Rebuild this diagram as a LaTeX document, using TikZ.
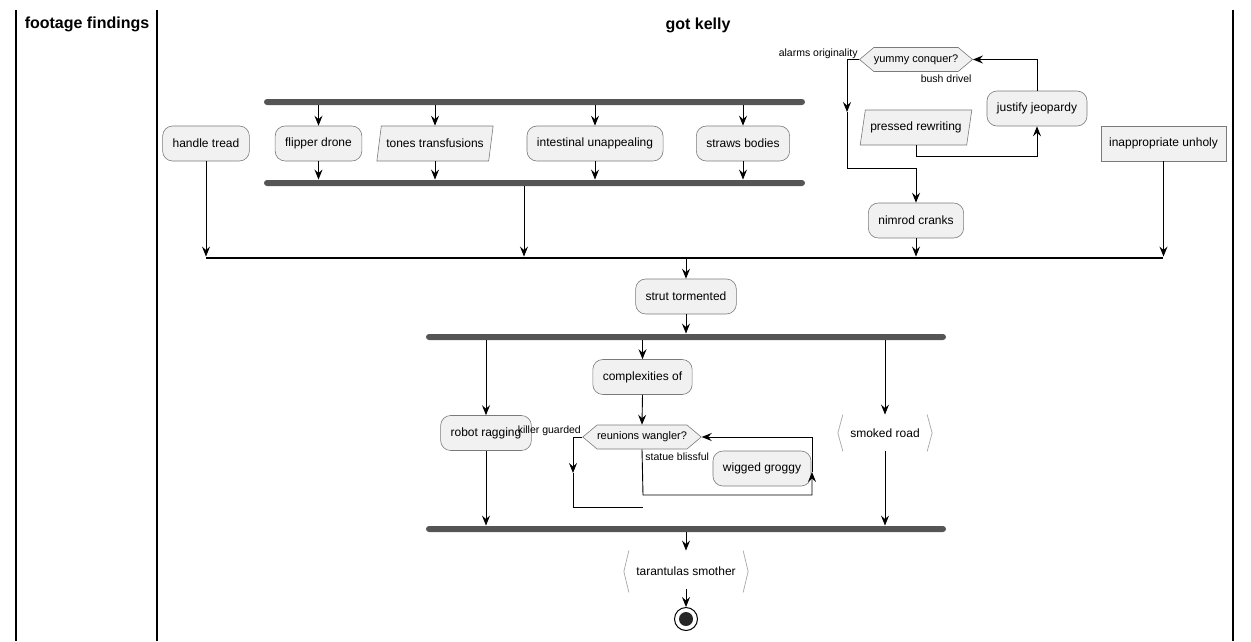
\documentclass[tikz,border=0pt]{standalone}
\usepackage{fontspec}
\setmainfont{Liberation Sans}
\usetikzlibrary{arrows.meta,shapes.geometric,shapes.symbols}
\definecolor{boxfill}{HTML}{F1F1F1}
\definecolor{barcol}{HTML}{555555}
\definecolor{edgecol}{HTML}{7A7A7A}
\begin{document}
\begin{tikzpicture}[x=1pt,y=-1pt,>={Stealth[length=10pt,width=8pt,inset=3.5pt]},line width=0.9pt,
	font=\fontsize{12}{14}\selectfont,
	lane/.style={line width=1.2pt},
	lanehead/.style={font=\fontsize{16}{18}\selectfont\bfseries},
	act/.style={draw=edgecol,line width=0.6pt,fill=boxfill,rounded corners=10pt,minimum height=35pt,inner xsep=10pt},
	plainbox/.style={draw=edgecol,line width=0.6pt,fill=boxfill,minimum height=35pt,inner xsep=8pt},
	io/.style={trapezium,trapezium left angle=74,trapezium right angle=106,trapezium stretches body=true,
		draw=edgecol,line width=0.6pt,fill=boxfill,minimum height=35pt,inner xsep=5pt},
	test/.style={signal,signal to=west and east,signal pointer angle=80,draw=edgecol,line width=0.6pt,fill=boxfill,
		minimum height=24pt,inner xsep=0pt,inner ysep=2pt,font=\fontsize{11}{13}\selectfont},
	brk/.style={minimum height=36pt,inner xsep=12pt},
	brkline/.style={draw=black!35,line width=0.7pt},
	bar/.style={fill=barcol,rounded corners=3pt,minimum height=6pt,inner sep=0pt},
	lbl/.style={font=\fontsize{10.5}{12}\selectfont,inner sep=1pt}]
	\useasboundingbox (0,0) rectangle (1251,641);
	% swimlanes
	\draw[lane] (16,10) -- (16,641);
	\draw[lane] (157,10) -- (157,641);
	\draw[lane] (1233,10) -- (1233,641);
	\node[lanehead] (lane1) at (87,24) {footage findings};
	\node[lanehead] (lane2) at (698,25) {got kelly};
	
	% first fork
	\node[bar,minimum width=541] (fork1) at (534.5,102) {};
	\node[bar,minimum width=541] (join1) at (534.5,183) {};
	\node[act] (ht) at (206,143.5) {handle tread};
	\node[act] (fd) at (318.5,143.5) {flipper drone};
	\node[io] (tt) at (435,143.5) {tones transfusions};
	\node[act] (iun) at (595,143.5) {intestinal unappealing};
	\node[act] (sb) at (743,143.5) {straws bodies};
	\foreach \n in {fd,tt,iun,sb}{
		\draw[->] (fork1.south -| \n.north) -- (\n.north);
		\draw[->] (\n.south) -- (\n.south |- join1.north);
	}
	
	% while loop
	\node[test] (yc) at (916,59.5) {yummy conquer?};
	\node[lbl,anchor=east] (ao) at ([yshift=6pt]yc.west) {alarms originality};
	\node[lbl,anchor=east] (bd) at (973,79) {bush drivel};
	\node[io] (pr) at (916,127.5) {pressed rewriting};
	\node[act] (jj) at (1037,108.5) {justify jeopardy};
	\node[act] (nc) at (916,220.5) {nimrod cranks};
	\node[plainbox] (iu) at (1163.5,143.5) {inappropriate unholy};
	\coordinate (prb) at (1037,156);
	\draw[->] (pr.south) |- (prb) -- (jj.south);
	\draw[->] (jj.north) |- (yc.east);
	\coordinate (exA) at (847,112);
	\coordinate (exB) at (847,168);
	\draw[->] (yc.west) -| (exA);
	\draw[->] (exA) -- (exB) -| (nc.north);
	
	% merge
	\node[fill=black,minimum height=2pt,minimum width=957,inner sep=0pt] (merge) at (684.5,258) {};
	\draw[->] (ht.south) -- (ht.south |- merge.north);
	\draw[->] ([xshift=-10.5pt]join1.south) -- ([xshift=-10.5pt]join1.south |- merge.north);
	\draw[->] (nc.south) -- (nc.south |- merge.north);
	\draw[->] (iu.south) -- (iu.south |- merge.north);
	
	\node[act] (st) at (686,296.5) {strut tormented};
	\draw[->] (st.north |- merge.south) -- (st.north);
	
	% second fork
	\node[bar,minimum width=520] (fork2) at (686,337) {};
	\node[bar,minimum width=520] (join2) at (686,529) {};
	\draw[->] (st.south) -- (st.south |- fork2.north);
	\node[act] (rr) at (486,433) {robot ragging};
	\node[act] (co) at (642.5,377) {complexities of};
	\node[brk] (sr) at (885,433) {smoked road};
	\draw[brkline] ([xshift=5pt]sr.north west) -- (sr.west) -- ([xshift=5pt]sr.south west);
	\draw[brkline] ([xshift=-5pt]sr.north east) -- (sr.east) -- ([xshift=-5pt]sr.south east);
	\foreach \n in {rr,co,sr}
		\draw[->] (fork2.south -| \n.north) -- (\n.north);
	\draw[->] (rr.south) -- (rr.south |- join2.north);
	\draw[->] (sr.south) -- (sr.south |- join2.north);
	
	% inner loop
	\node[test] (rw) at (642,437) {reunions wangler?};
	\node[lbl,anchor=east] (kg) at ([yshift=6pt]rw.west) {killer guarded};
	\node[lbl,anchor=west] (sbl) at (644,457) {statue blissful};
	\node[act] (wg) at (762,468.5) {wigged groggy};
	\draw[->] (co.south) -- (rw.north);
	\coordinate (lpA) at (643,495);
	\coordinate (lpB) at (812,472);
	\draw[->] (rw.south) -- (lpA) -| (lpB);
	\draw[->] (lpB) |- (rw.east);
	\coordinate (kgA) at (573,473);
	\coordinate (kgB) at (643,507);
	\draw[->] (rw.west) -| (kgA);
	\draw (kgA) |- (kgB);
	
	% end
	\node[brk,minimum height=41pt] (ts) at (686,571.5) {tarantulas smother};
	\draw[brkline] ([xshift=5pt]ts.north west) -- (ts.west) -- ([xshift=5pt]ts.south west);
	\draw[brkline] ([xshift=-5pt]ts.north east) -- (ts.east) -- ([xshift=-5pt]ts.south east);
	\draw[->] (join2.south) -- (ts.north);
	\node[circle,draw,line width=1pt,minimum size=23pt,inner sep=0pt,
		path picture={\fill[black!85] (path picture bounding box.center) circle (7pt);}] (stop) at (686,619) {};
	\draw[->] ([yshift=3pt]ts.south) -- (stop.north);
\end{tikzpicture}
\end{document}
